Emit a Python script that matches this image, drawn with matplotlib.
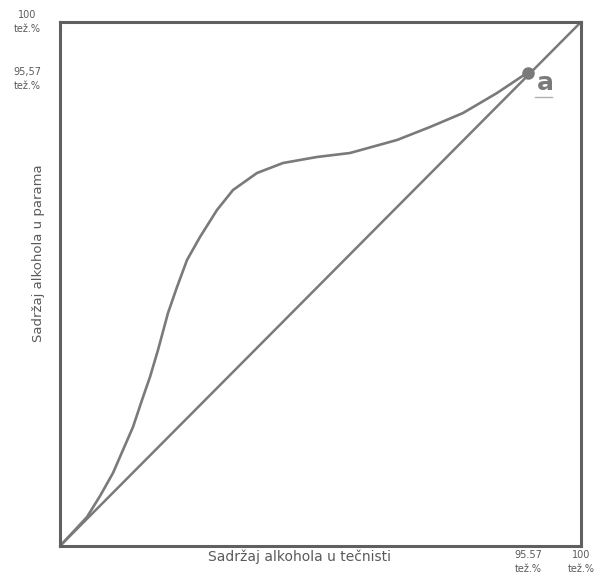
import matplotlib
matplotlib.use("Agg")
import matplotlib.pyplot as plt

# Data (schematic box, 0-100 each way)
curve_x = [0, 5.18, 7.68, 10.17, 12.09, 14.01, 15.74, 17.27, 18.81, 20.73, 22.46,
           24.38, 26.87, 30.13, 33.21, 37.81, 42.80, 49.33, 55.66, 64.68, 71.02,
           77.35, 83.88, 89.64]
curve_y = [0, 5.53, 9.54, 13.93, 18.32, 22.71, 27.86, 32.25, 37.40, 44.47, 49.43,
           54.58, 58.97, 64.12, 67.94, 71.18, 73.09, 74.24, 75.00, 77.48, 79.96,
           82.63, 86.45, 90.27]
diag_x = [0, 100]
diag_y = [0, 100]
azeo_x = [89.8]
azeo_y = [90.2]
azeo_label = "a"
tick_pos = [89.8, 100]
x_tick_labels = ["95.57\ntež.%", "100\ntež.%"]
y_tick_labels = ["95,57\ntež.%", "100\ntež.%"]
x_label = "Sadržaj alkohola u tečnisti"
y_label = "Sadržaj alkohola u parama"

gray = "#7a7a7a"
text_gray = "#5a5a5a"
W, H = 608, 584

fig = plt.figure(figsize=(W / 100, H / 100), dpi=100)
ax = fig.add_axes([60 / W, 1 - 546 / H, 521 / W, 524 / H])
ax.set_xlim(0, 100)
ax.set_ylim(0, 100)

ax.plot(diag_x, diag_y, color=gray, lw=1.8, solid_capstyle="round", clip_on=False)
ax.plot(curve_x, curve_y, color=gray, lw=1.9, solid_capstyle="round",
        solid_joinstyle="round")
ax.plot(azeo_x, azeo_y, "o", color=gray, ms=8)
ax.text(azeo_x[0] + 1.7, azeo_y[0] - 1.8, azeo_label, fontsize=18, fontweight="bold",
        color=gray, ha="left", va="center")
ax.plot([azeo_x[0] + 1.4, azeo_x[0] + 4.6], [azeo_y[0] - 4.6, azeo_y[0] - 4.6],
        color="#b0b0b0", lw=1)

for s in ax.spines.values():
    s.set_color("#606060")
    s.set_linewidth(2.2)

ax.set_xticks(tick_pos)
ax.set_xticklabels(x_tick_labels, fontsize=7, color=text_gray, linespacing=1.5)
ax.set_yticks([])
ax.tick_params(axis="both", length=0)
ax.tick_params(axis="x", pad=3)

# left-hand value labels, placed beside the box
for pos, lab in zip(tick_pos, y_tick_labels):
    ax.annotate(lab, xy=(0, pos), xycoords="data", xytext=(-33, -4 if pos < 100 else 0),
                textcoords="offset pixels", ha="center", va="center", fontsize=7,
                color=text_gray, linespacing=1.5, annotation_clip=False)

fig.text(299 / W, 1 - 557 / H, x_label, fontsize=10, color=text_gray,
         ha="center", va="center")
fig.text(39 / W, 1 - 253 / H, y_label, fontsize=9.5, color=text_gray,
         ha="center", va="center", rotation=90)

fig.savefig("out.png", dpi=100, facecolor="white")
